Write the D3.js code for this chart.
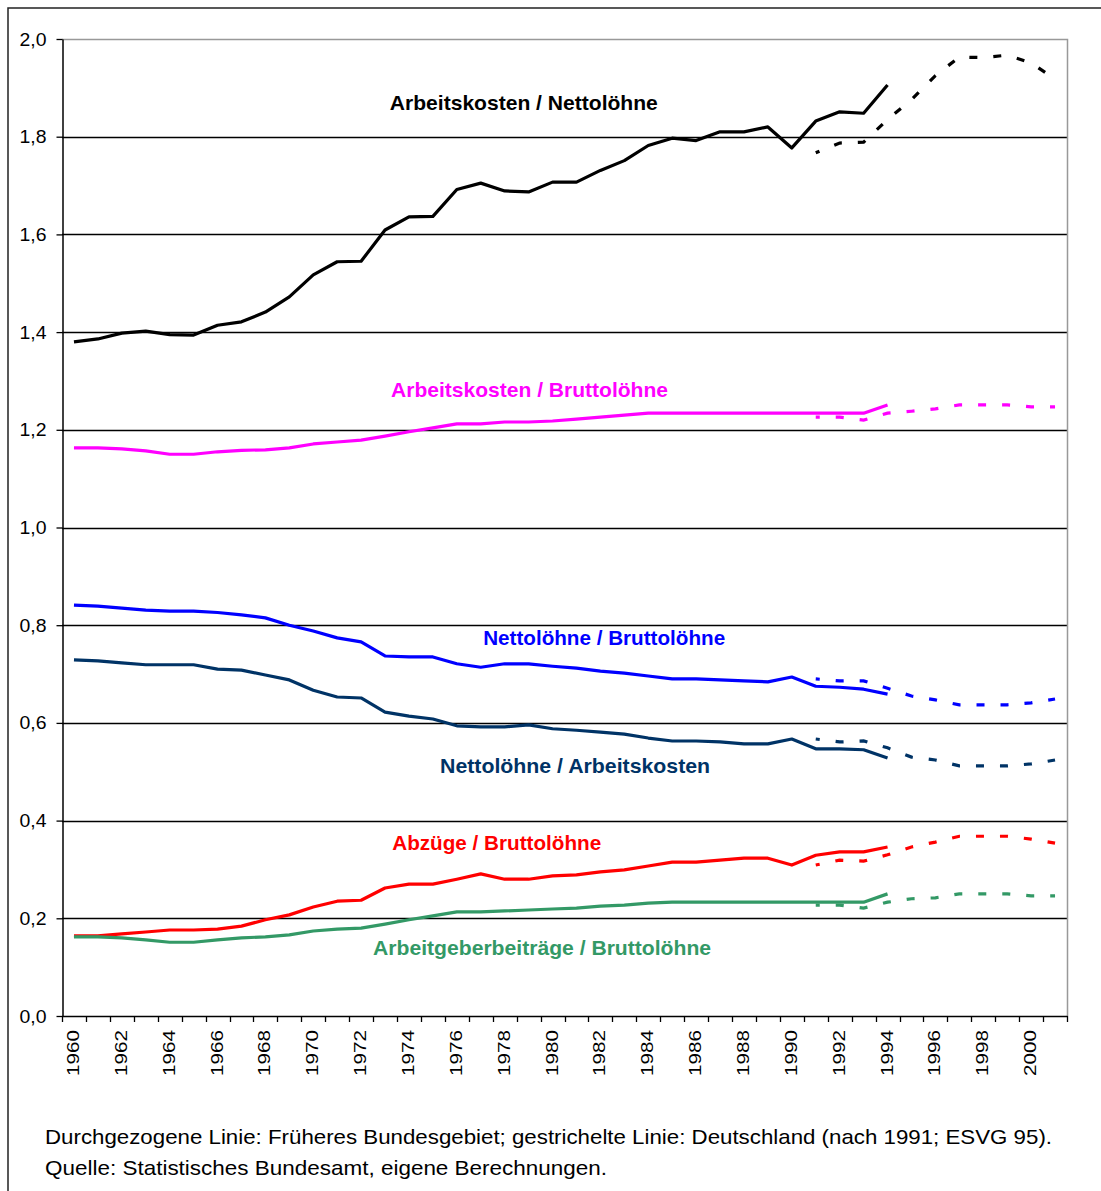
<!DOCTYPE html>
<html>
<head>
<meta charset="utf-8">
<script src="https://cdn.jsdelivr.net/npm/d3@7/dist/d3.min.js"></script>
<style>
  body { margin: 0; background: #fff; }
  svg { display: block; font-family: "Liberation Sans", Arial, sans-serif; }
</style>
</head>
<body>
<script>
// categories: one per year, 1960 .. 2001
var years = d3.range(1960, 2002);
var tickYears = [1960,1962,1964,1966,1968,1970,1972,1974,1976,1978,1980,1982,1984,1986,1988,1990,1992,1994,1996,1998,2000];
var yTicks = [0, 0.2, 0.4, 0.6, 0.8, 1.0, 1.2, 1.4, 1.6, 1.8, 2.0];

// Früheres Bundesgebiet, 1960 .. 1994 (solid)
var westYears = d3.range(1960, 1995);
var akNetWest = [1.380,1.386,1.398,1.402,1.395,1.394,1.414,1.421,1.441,1.472,1.517,1.544,1.545,1.609,1.636,1.637,1.692,1.705,1.689,1.687,1.707,1.707,1.731,1.751,1.782,1.797,1.792,1.810,1.810,1.820,1.777,1.832,1.851,1.848,1.906];
var akBruttoWest = [1.163,1.163,1.161,1.157,1.150,1.150,1.155,1.158,1.159,1.163,1.171,1.175,1.179,1.187,1.196,1.204,1.212,1.212,1.216,1.216,1.218,1.222,1.226,1.230,1.234,1.234,1.234,1.234,1.234,1.234,1.234,1.234,1.234,1.234,1.251];
var netBruttoWest = [0.841,0.839,0.835,0.831,0.829,0.829,0.826,0.821,0.815,0.800,0.788,0.774,0.766,0.737,0.735,0.735,0.721,0.714,0.721,0.721,0.716,0.712,0.706,0.702,0.696,0.690,0.690,0.688,0.686,0.684,0.694,0.675,0.673,0.669,0.659];
var netAkWest = [0.729,0.727,0.723,0.719,0.719,0.719,0.710,0.708,0.698,0.688,0.667,0.653,0.651,0.622,0.614,0.608,0.594,0.592,0.592,0.596,0.588,0.585,0.581,0.577,0.569,0.563,0.563,0.561,0.557,0.557,0.567,0.547,0.547,0.545,0.528];
var abzBruttoWest = [0.164,0.164,0.168,0.172,0.176,0.176,0.178,0.184,0.197,0.207,0.223,0.235,0.237,0.262,0.270,0.270,0.280,0.291,0.280,0.280,0.287,0.289,0.295,0.299,0.307,0.315,0.315,0.319,0.323,0.323,0.309,0.329,0.336,0.336,0.346];
var agBruttoWest = [0.162,0.162,0.160,0.156,0.151,0.151,0.156,0.160,0.162,0.166,0.174,0.178,0.180,0.188,0.197,0.205,0.213,0.213,0.215,0.217,0.219,0.221,0.225,0.227,0.231,0.233,0.233,0.233,0.233,0.233,0.233,0.233,0.233,0.233,0.250];

// Deutschland, 1991 .. 2001 (dashed)
var gerYears = d3.range(1991, 2002);
var akNetGer = [1.767,1.787,1.789,1.835,1.876,1.925,1.963,1.962,1.967,1.951,1.918];
var akBruttoGer = [1.226,1.226,1.220,1.234,1.238,1.243,1.251,1.251,1.251,1.247,1.247];
var netBruttoGer = [0.690,0.686,0.686,0.671,0.655,0.647,0.637,0.637,0.637,0.641,0.649];
var netAkGer = [0.567,0.561,0.563,0.549,0.530,0.524,0.512,0.512,0.512,0.516,0.524];
var abzBruttoGer = [0.309,0.319,0.317,0.330,0.346,0.356,0.368,0.368,0.368,0.362,0.354];
var agBruttoGer = [0.227,0.227,0.221,0.233,0.240,0.242,0.250,0.250,0.250,0.246,0.246];

var seriesNames = ["Arbeitskosten / Nettolöhne", "Arbeitskosten / Bruttolöhne", "Nettolöhne / Bruttolöhne",
                   "Nettolöhne / Arbeitskosten", "Abzüge / Bruttolöhne", "Arbeitgeberbeiträge / Bruttolöhne"];
var seriesColors = ["#000000", "#ff00ff", "#0000ff", "#003366", "#ff0000", "#339966"];
var westValues = [akNetWest, akBruttoWest, netBruttoWest, netAkWest, abzBruttoWest, agBruttoWest];
var gerValues = [akNetGer, akBruttoGer, netBruttoGer, netAkGer, abzBruttoGer, agBruttoGer];

var footLines = ["Durchgezogene Linie: Früheres Bundesgebiet; gestrichelte Linie: Deutschland (nach 1991; ESVG 95).",
                 "Quelle: Statistisches Bundesamt, eigene Berechnungen."];

var W = 1101, H = 1191;
var plot = {left: 62, top: 39, right: 1067, bottom: 1016};

var svg = d3.select("body").append("svg").attr("width", W).attr("height", H);

// outer frame (cut off at right/bottom like the picture)
svg.append("rect").attr("x", 8).attr("y", 8).attr("width", W + 10).attr("height", H + 10)
  .attr("fill", "none").attr("stroke", "#222").attr("stroke-width", 1.5);

var x = d3.scaleBand().domain(years).range([plot.left, plot.right]);
var y = d3.scaleLinear().domain([0, 2]).range([plot.bottom, plot.top]);
var cx = function(yr) { return x(yr) + x.bandwidth() / 2; };

// gridlines
svg.append("g").selectAll("line")
  .data(yTicks.filter(function(d) { return d > 0 && d < 2; }))
  .enter().append("line")
  .attr("x1", plot.left).attr("x2", plot.right)
  .attr("y1", function(d) { return Math.round(y(d)) + 0.5; })
  .attr("y2", function(d) { return Math.round(y(d)) + 0.5; })
  .attr("stroke", "#000").attr("stroke-width", 1.3);

// plot area border top / right (grey)
svg.append("path")
  .attr("d", "M" + plot.left + "," + (y(2) + 0.5) + "H" + (plot.right + 0.5) + "V" + plot.bottom)
  .attr("fill", "none").attr("stroke", "#999").attr("stroke-width", 1.5);

// y axis
var yAxis = svg.append("g").attr("transform", "translate(" + (plot.left + 0.5) + ",0)")
  .call(d3.axisLeft(y).tickValues(yTicks).tickSize(6).tickSizeOuter(0)
    .tickFormat(function(d) { return d.toFixed(1).replace(".", ","); }));
yAxis.select(".domain").attr("stroke", "#000").attr("stroke-width", 1.5);
yAxis.selectAll(".tick line").attr("stroke", "#000").attr("stroke-width", 1.3);
yAxis.selectAll(".tick text").attr("font-size", 19).attr("fill", "#000").attr("x", -16)
  .attr("textLength", 27).attr("lengthAdjust", "spacingAndGlyphs")
  .attr("font-family", "Liberation Sans, Arial, sans-serif");

// x axis: line, ticks at category boundaries, rotated labels every 2 years
var xg = svg.append("g");
xg.append("line").attr("x1", plot.left).attr("x2", plot.right + 0.5)
  .attr("y1", plot.bottom + 0.5).attr("y2", plot.bottom + 0.5)
  .attr("stroke", "#000").attr("stroke-width", 1.5);
xg.selectAll(".xt").data(years.concat([null])).enter().append("line")
  .attr("x1", function(d) { return Math.round(d === null ? plot.right : x(d)) + 0.5; })
  .attr("x2", function(d) { return Math.round(d === null ? plot.right : x(d)) + 0.5; })
  .attr("y1", plot.bottom).attr("y2", plot.bottom + 6)
  .attr("stroke", "#000").attr("stroke-width", 1.3);
xg.selectAll(".xl").data(tickYears).enter().append("text")
  .text(function(d) { return d; })
  .attr("transform", function(d) { return "translate(" + (cx(d) + 5) + "," + (plot.bottom + 14) + ")rotate(-90)"; })
  .attr("text-anchor", "end")
  .attr("font-size", 17)
  .attr("textLength", 46).attr("lengthAdjust", "spacingAndGlyphs")
  .attr("fill", "#000");

// series lines
var line = d3.line().x(function(d) { return cx(d[0]); }).y(function(d) { return y(d[1]); });

seriesNames.forEach(function(name, i) {
  var gerPts = gerYears.map(function(yr, j) { return [yr, gerValues[i][j]]; });
  var westPts = westYears.map(function(yr, j) { return [yr, westValues[i][j]]; });
  svg.append("path").datum(westPts)
    .attr("d", line).attr("fill", "none")
    .attr("stroke", seriesColors[i]).attr("stroke-width", 3.2)
    .attr("stroke-linejoin", "round");
  svg.append("path").datum(gerPts)
    .attr("d", line).attr("fill", "none")
    .attr("stroke", seriesColors[i]).attr("stroke-width", 3.2)
    .attr("stroke-dasharray", "8,16").attr("stroke-dashoffset", 4);
});

// series labels, placed in data units (year, value)
var labelPos = [[1973.2, 1.855, 268], [1973.25, 1.267, 277], [1977.1, 0.759, 242],
                [1975.3, 0.497, 270], [1973.3, 0.340, 209], [1972.5, 0.125, 338]];
var xYear = d3.scaleLinear().domain([1960, 2001]).range([cx(1960), cx(2001)]);
seriesNames.forEach(function(name, i) {
  svg.append("text").text(name)
    .attr("x", xYear(labelPos[i][0])).attr("y", y(labelPos[i][1]))
    .attr("font-size", 21).attr("font-weight", "bold")
    .attr("textLength", labelPos[i][2]).attr("lengthAdjust", "spacingAndGlyphs")
    .attr("fill", seriesColors[i]);
});

// footnote
svg.selectAll(".foot").data(footLines).enter().append("text")
  .text(function(d) { return d; })
  .attr("x", 45)
  .attr("y", function(d, i) { return 1144 + i * 31; })
  .attr("font-size", 21)
  .attr("textLength", function(d, i) { return i === 0 ? 1007 : 562; })
  .attr("lengthAdjust", "spacingAndGlyphs")
  .attr("fill", "#000");
</script>
</body>
</html>
